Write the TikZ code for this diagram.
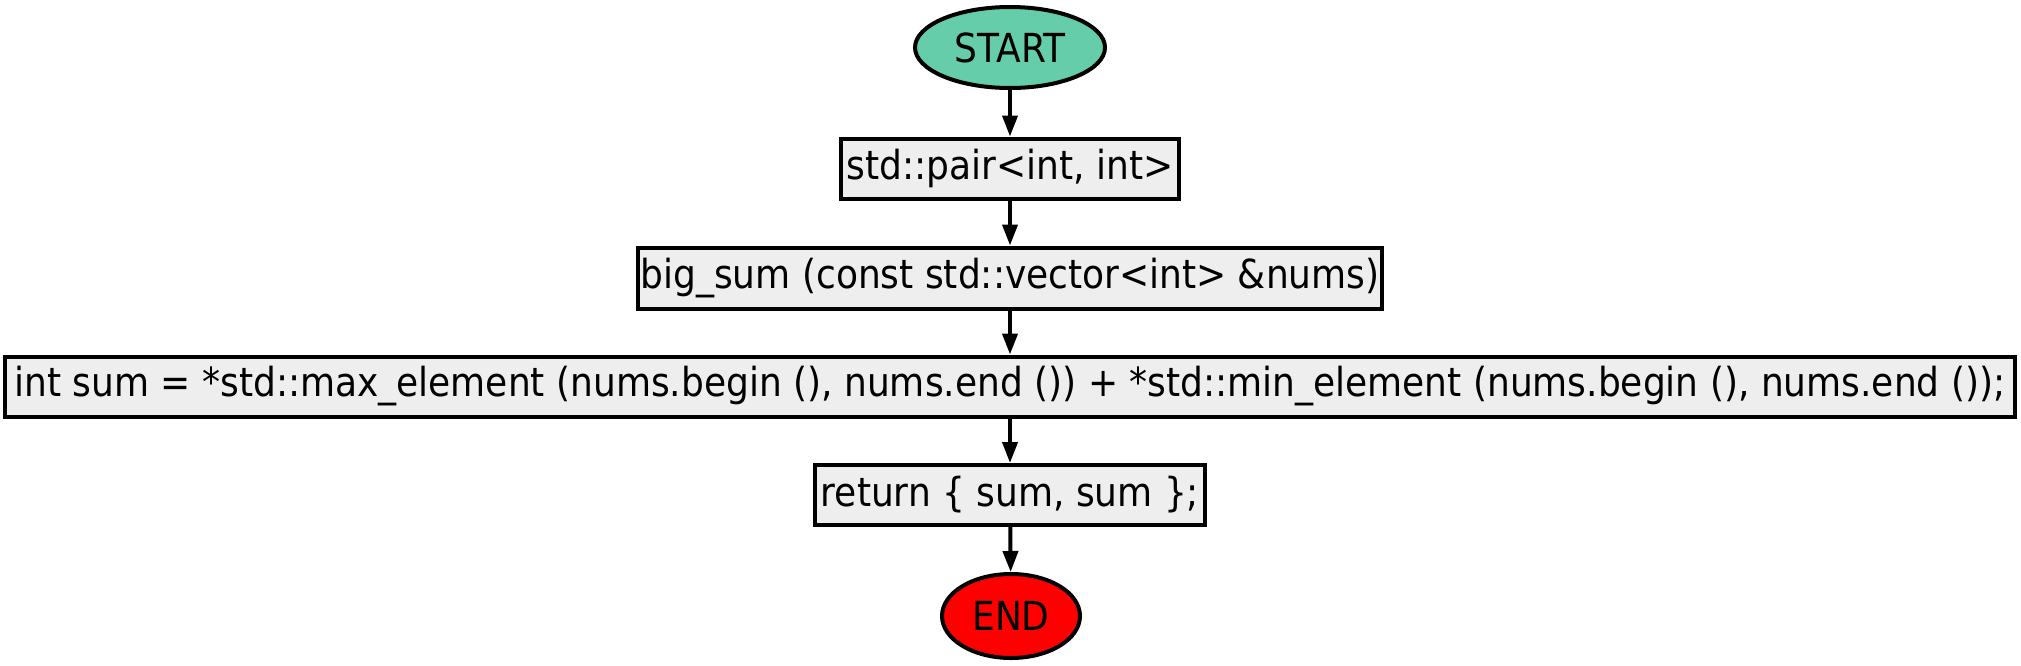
\documentclass[tikz,border=0pt]{standalone}
\usepackage{fontspec}
\setmainfont{DejaVu Sans Condensed}
\usetikzlibrary{shapes.geometric,arrows.meta}
\definecolor{startc}{HTML}{66CDAA}
\definecolor{boxc}{HTML}{EEEEEE}
\tikzset{
  term/.style={ellipse,draw=black,line width=4pt,inner sep=0pt,font=\fontsize{40}{46}\selectfont},
  stmt/.style={rectangle,draw=black,line width=4pt,fill=boxc,inner sep=0pt,minimum height=60pt,font=\fontsize{40}{46}\selectfont},
  flow/.style={-{Triangle[length=21pt,width=15pt]},line width=4pt}
}
\begin{document}
\begin{tikzpicture}[x=1pt,y=-1pt]
\useasboundingbox (0,0) rectangle (2021,665);
\node[term,fill=startc,minimum width=190pt,minimum height=81pt] (start) at (1010,47.5) {START};
\node[stmt,minimum width=338pt] (pair) at (1010,168.5) {std::pair<int, int>};
\node[stmt,minimum width=744pt,minimum height=61pt] (sig) at (1010,278) {big\_sum (const std::vector<int> \&nums)};
\node[stmt,minimum width=2010pt] (sum) at (1010,386.5) {int sum = *std::max\_element (nums.begin (), nums.end ()) + *std::min\_element (nums.begin (), nums.end ());};
\node[stmt,minimum width=390pt] (ret) at (1010,495) {return \{ sum, sum \};};
\node[term,fill=red,minimum width=138pt,minimum height=84pt] (end) at (1011,616) {END};
\draw[flow] (start) -- (pair);
\draw[flow] (pair) -- (sig);
\draw[flow] (sig) -- (sum);
\draw[flow] (sum) -- (ret);
\draw[flow] (ret) -- (end);
\end{tikzpicture}
\end{document}
